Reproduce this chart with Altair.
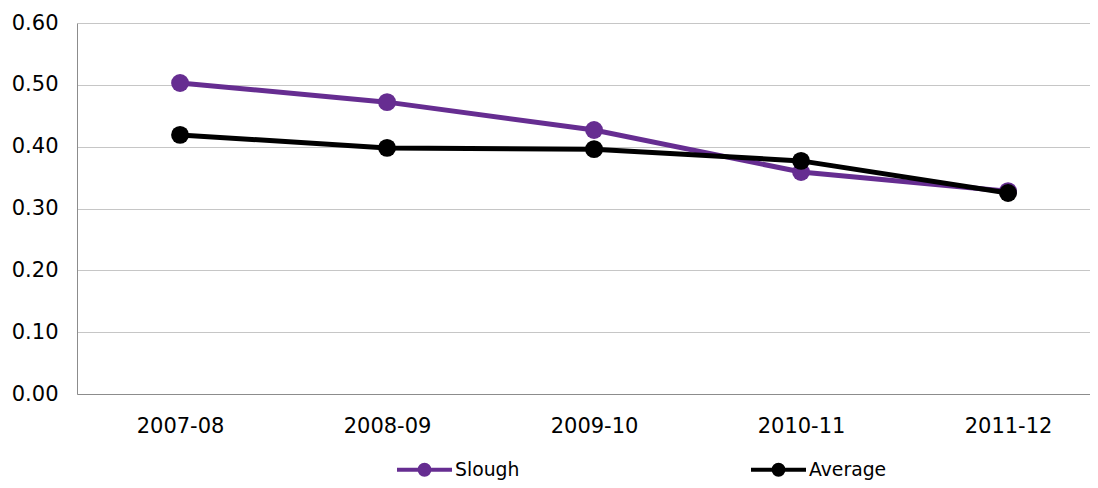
import altair as alt
import pandas as pd

years = ["2007-08", "2008-09", "2009-10", "2010-11", "2011-12"]
slough = [0.503, 0.472, 0.427, 0.359, 0.328]
average = [0.419, 0.398, 0.396, 0.377, 0.325]
series_names = ["Slough", "Average"]
series_colors = ["#662D91", "#000000"]
y_ticks = [0.0, 0.1, 0.2, 0.3, 0.4, 0.5, 0.6]

rows = []
for name, vals in zip(series_names, [slough, average]):
    for yr, v in zip(years, vals):
        rows.append({"year": yr, "value": v, "series": name})
df = pd.DataFrame(rows)

FONT = "DejaVu Sans"
LEGEND_SYMBOL = "M-1,0L1,0M-0.18,0A0.18,0.18,0,1,1,0.18,0A0.18,0.18,0,1,1,-0.18,0Z"

x_enc = alt.X(
    "year:N", sort=years, title=None,
    scale=alt.Scale(type="point", padding=0.4469, align=0.557),
    axis=alt.Axis(labelAngle=0, labelFontSize=21, labelPadding=21, ticks=False,
                  grid=False, domainColor="#8C8C8C", labelColor="#000000", labelFont=FONT),
)
y_enc = alt.Y(
    "value:Q", title=None,
    scale=alt.Scale(domain=[0, 0.6], nice=False),
    axis=alt.Axis(values=y_ticks, format=".2f", labelFontSize=21, labelPadding=19,
                  ticks=False, domainColor="#8C8C8C", gridColor="#C6C6C6",
                  labelColor="#000000", labelFont=FONT),
)
stroke_enc = alt.Stroke("series:N", title=None,
                        scale=alt.Scale(domain=series_names, range=series_colors))
fill_enc = alt.Fill("series:N", title=None,
                    scale=alt.Scale(domain=series_names, range=series_colors))

layers = []
for name in series_names:
    sub = alt.Chart(df).transform_filter(alt.datum.series == name)
    layers.append(sub.mark_line(strokeWidth=5).encode(x=x_enc, y=y_enc, stroke=stroke_enc))
    layers.append(sub.mark_point(filled=True, size=320, opacity=1, strokeWidth=0).encode(
        x=x_enc, y=y_enc, fill=fill_enc, stroke=stroke_enc))

chart = alt.layer(*layers).properties(
    width=1013, height=371,
    autosize=alt.AutoSizeParams(type="none"),
    padding={"left": 69, "top": 15, "right": 0, "bottom": 86},
).configure_view(stroke=None).configure_legend(
    orient="none", legendX=318, legendY=417, direction="horizontal",
    symbolType=LEGEND_SYMBOL, symbolSize=3025, symbolStrokeWidth=4,
    labelFontSize=18.8, labelFont=FONT, labelColor="#000000", labelOffset=1,
    columnPadding=223, padding=0, titlePadding=0,
)

chart.save("out.html", embed_options={"renderer": "svg", "actions": False})
